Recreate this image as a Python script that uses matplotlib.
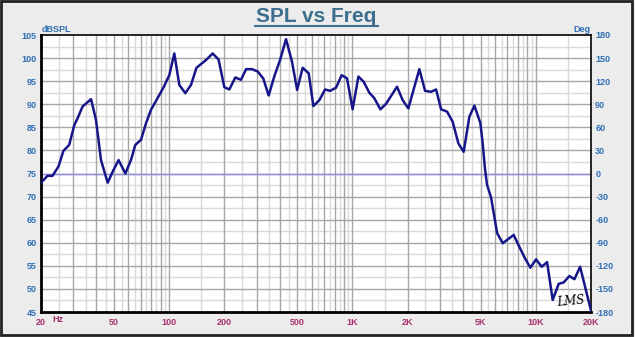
import numpy as np
import matplotlib
matplotlib.use("Agg")
import matplotlib.pyplot as plt
from matplotlib.lines import Line2D
from matplotlib.patches import Rectangle

plt.rcParams["font.family"] = ["Liberation Sans", "DejaVu Sans"]

# SPL measurement (Hz, dB SPL)
freq = [20, 21.7, 23.1, 24.9, 26.5, 28.5, 30.4, 31.7, 33.7, 37.5,
        39.9, 42.5, 46.2, 49.2, 53, 57.7, 61.9, 65.4, 70.2, 74.8,
        79.6, 88.4, 93.3, 100.2, 106.7, 113.6, 122.5, 131.6, 141, 159,
        172.7, 186, 200, 213, 229.6, 246.6, 262.8, 283, 304, 326,
        349, 375, 403, 434, 468, 499, 535, 577, 612, 660,
        709, 755, 814, 873, 934, 1002, 1077, 1150, 1236, 1316,
        1420, 1525, 1750, 1878, 2017, 2156, 2316, 2489, 2684, 2858,
        3043, 3281, 3520, 3782, 4042, 4341, 4624, 4986, 5132, 5288,
        5424, 5702, 6150, 6598, 7574, 8136, 8740, 9340, 10036, 10766,
        11522, 12360, 13332, 14192, 15248, 16240, 17440, 20000]
spl = [73.0, 74.5, 74.5, 76.5, 79.9, 81.2, 85.5, 87.0, 89.5, 91.1,
       86.6, 77.9, 73.0, 75.4, 77.9, 75.0, 77.9, 81.2, 82.3, 85.9,
       88.8, 92.0, 93.7, 96.3, 101.0, 94.2, 92.4, 94.2, 97.9, 99.6,
       101.0, 99.7, 93.7, 93.2, 95.8, 95.3, 97.6, 97.6, 97.1, 95.6,
       91.9, 96.1, 99.6, 104.1, 99.2, 93.1, 97.9, 96.7, 89.6, 90.9,
       93.2, 92.9, 93.6, 96.3, 95.6, 88.9, 96.0, 94.9, 92.5, 91.3,
       88.9, 90.1, 93.8, 90.9, 89.1, 93.2, 97.6, 92.9, 92.7, 93.2,
       88.9, 88.4, 86.2, 81.5, 79.7, 87.3, 89.7, 85.9, 81.5, 75.8,
       72.5, 69.8, 62.1, 59.9, 61.7, 59.1, 56.6, 54.6, 56.4, 54.8,
       55.8, 47.6, 51.1, 51.4, 52.8, 52.1, 54.8, 45.3]

spl_ticks = [45, 50, 55, 60, 65, 70, 75, 80, 85, 90, 95, 100, 105]
deg_ticks = [-180, -150, -120, -90, -60, -30, 0, 30, 60, 90, 120, 150, 180]
freq_ticks = [20, 50, 100, 200, 500, 1000, 2000, 5000, 10000, 20000]
freq_labels = ["20", "50", "100", "200", "500", "1K", "2K", "5K", "10K", "20K"]

BG = "#ececec"
YCOL = "#2f6fb4"
XCOL = "#a8306c"
LINE = "#16168a"

fig = plt.figure(figsize=(6.35, 3.37), dpi=100, facecolor=BG)
ax = fig.add_axes([41 / 635, 1 - 312 / 337, 550 / 635, 277 / 337])
ax.set_facecolor("white")
ax.set_xscale("log")
ax.set_xlim(20, 20000)
ax.set_ylim(45, 105)

# log grid: integer multiples darker, half steps lighter
major_x, minor_x = [], []
for dec in [10, 100, 1000, 10000]:
    for n in range(1, 10):
        major_x.append(n * dec)
        minor_x.append((n + 0.5) * dec)
for xv in minor_x:
    if 20 < xv < 20000:
        ax.axvline(xv, color="#dadada", lw=1.0, zorder=1)
for xv in major_x:
    if 20 < xv < 20000:
        ax.axvline(xv, color="#a6a6a6", lw=1.0, zorder=1.5)
for yv in np.arange(47.5, 105, 5):
    ax.axhline(yv, color="#dadada", lw=1.0, zorder=1)
for yv in spl_ticks[1:-1]:
    ax.axhline(yv, color="#a6a6a6", lw=1.0, zorder=1.5)

# zero degree reference
ax.axhline(75, color="#8c8ce0", lw=1.0, zorder=2)

ax.plot(freq, spl, color=LINE, lw=1.8, zorder=5, solid_joinstyle="round")

for s in ax.spines.values():
    s.set_color("black")
    s.set_linewidth(1.2)
ax.spines["bottom"].set_linewidth(2)
ax.spines["left"].set_linewidth(2)

ax.set_yticks(spl_ticks)
ax.set_yticklabels([str(v) for v in spl_ticks])
ax.tick_params(axis="y", length=0, pad=3, labelsize=6.5, labelcolor=YCOL)
for t in ax.get_yticklabels():
    t.set_fontweight("bold")

ax.set_xticks(freq_ticks)
ax.set_xticklabels(freq_labels)
ax.xaxis.set_minor_locator(matplotlib.ticker.NullLocator())
ax.tick_params(axis="x", length=0, pad=4, labelsize=6.5, labelcolor=XCOL)
for t in ax.get_xticklabels():
    t.set_fontweight("bold")

ax2 = ax.twinx()
ax2.set_ylim(-180, 180)
ax2.set_yticks(deg_ticks)
ax2.set_yticklabels([str(v) for v in deg_ticks])
ax2.tick_params(axis="y", length=0, pad=3, labelsize=6.5, labelcolor=YCOL)
for t in ax2.get_yticklabels():
    t.set_fontweight("bold")
for s in ax2.spines.values():
    s.set_visible(False)

fig.text(42 / 635, 1 - 29 / 337, "dBSPL", color=YCOL, fontsize=6.5,
         fontweight="bold", ha="left", va="center")
fig.text(590 / 635, 1 - 29 / 337, "Deg", color=YCOL, fontsize=6.5,
         fontweight="bold", ha="right", va="center")
fig.text(52 / 635, 1 - 320 / 337, "Hz", color=XCOL, fontsize=6.5,
         fontweight="bold", ha="left", va="center")
fig.text(571 / 635, 1 - 301 / 337, "LMS", color="black", fontsize=8.5,
         family="DejaVu Serif", style="italic", ha="center", va="center",
         rotation=5)

# title with underline
fig.text(316 / 635, 1 - 16 / 337, "SPL vs Freq", color="#3d6f8e",
         fontsize=15, fontweight="bold", ha="center", va="center")
fig.add_artist(Line2D([255 / 635, 378 / 635], [1 - 26 / 337, 1 - 26 / 337],
                      color="#3d6f8e", lw=1.5, transform=fig.transFigure))

# outer frame
fig.add_artist(Rectangle((0.002, 0.006), 0.993, 0.99, transform=fig.transFigure,
                         fill=False, edgecolor="#222222", lw=2))

fig.savefig("out.png", dpi=100, facecolor=BG)
